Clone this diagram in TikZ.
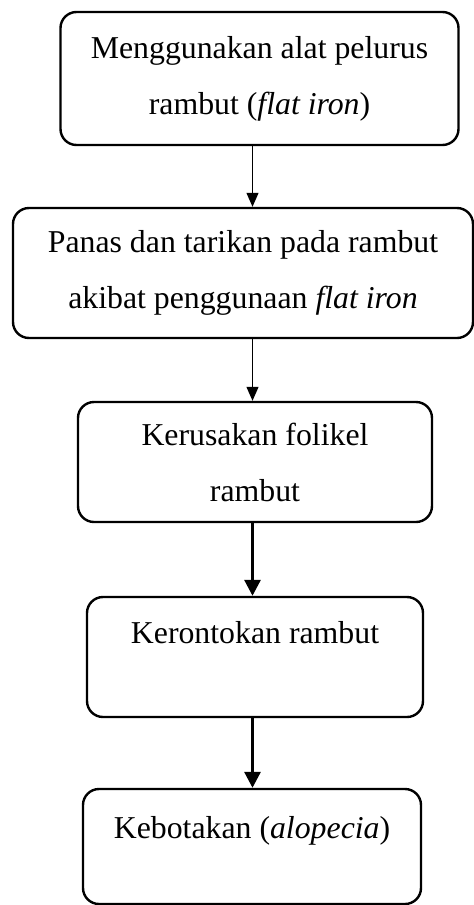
\documentclass[tikz,border=0pt]{standalone}
\usepackage{fontspec}
\setmainfont{Liberation Serif}
\usepackage{tikz}
\usetikzlibrary{arrows.meta}

\begin{document}
\begin{tikzpicture}[x=0.5pt, y=-0.5pt,
        stage/.style={draw, line width=1.2pt, rounded corners=8pt, align=center,
            inner sep=0pt, font=\fontsize{15.9}{28}\selectfont},
        thinflow/.style={line width=0.6pt, -{Triangle[length=7pt, width=6pt]}},
        thickflow/.style={line width=1.5pt, -{Triangle[length=8pt, width=8pt]}}]
        \useasboundingbox (0, 0) rectangle (474, 905);
        % Boxes
        \node [stage, minimum width=199pt, minimum height=66.5pt] (flatiron) at (259.5, 78.5)
            {Menggunakan alat pelurus\\rambut (\textit{flat iron})};
        \node [stage, minimum width=230pt, minimum height=65pt] (panas) at (243, 273)
            {Panas dan tarikan pada rambut\\akibat penggunaan \textit{flat iron}};
        \node [stage, minimum width=177pt, minimum height=60pt] (folikel) at (255, 462)
            {Kerusakan folikel\\rambut};
        \node [stage, minimum width=168pt, minimum height=60pt] (rontok) at (255, 657)
            {Kerontokan rambut\\[-3pt]~};
        \node [stage, minimum width=169pt, minimum height=57.5pt] (botak) at (252, 846.5)
            {Kebotakan (\textit{alopecia})\\[-9pt]~};
        % Arrows
        \coordinate (axis) at (252.5, 0);
        \draw [thinflow] (flatiron.south -| axis) -- (panas.north -| axis);
        \draw [thinflow] (panas.south -| axis) -- (folikel.north -| axis);
        \draw [thickflow] (folikel.south -| axis) -- (rontok.north -| axis);
        \draw [thickflow] (rontok.south -| axis) -- (botak.north -| axis);
    \end{tikzpicture}
\end{document}
